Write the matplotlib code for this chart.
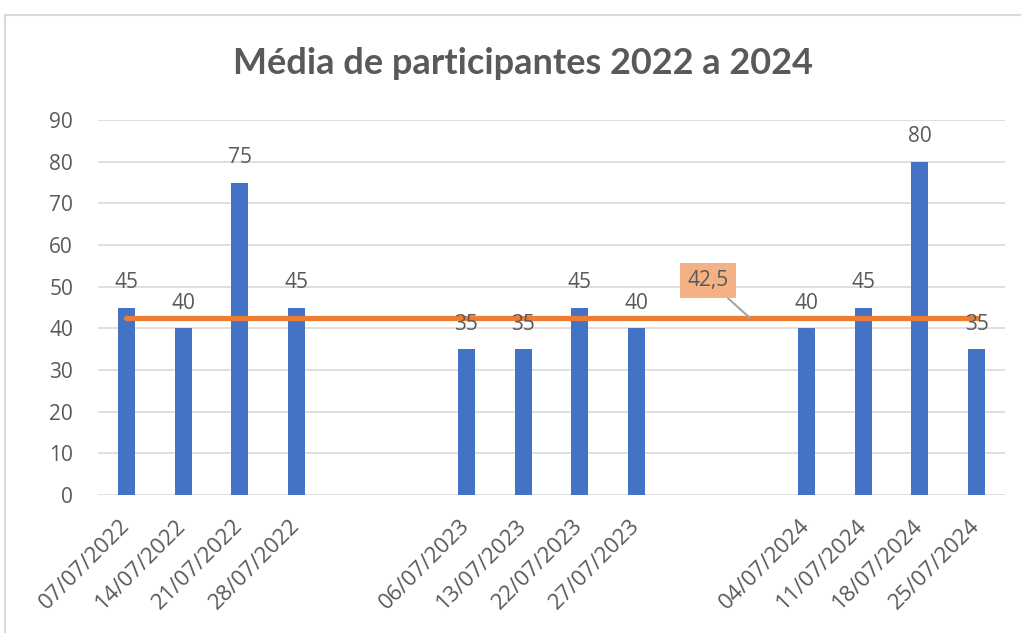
import matplotlib.pyplot as plt
from matplotlib.patches import Rectangle

# categories (blank ones leave gaps between years)
datas = ['07/07/2022', '14/07/2022', '21/07/2022', '28/07/2022', '', '',
         '06/07/2023', '13/07/2023', '22/07/2023', '27/07/2023', '', '',
         '04/07/2024', '11/07/2024', '18/07/2024', '25/07/2024']
participantes = [45, 40, 75, 45, None, None,
                 35, 35, 45, 40, None, None,
                 40, 45, 80, 35]
media = 42.5
yticks = [0, 10, 20, 30, 40, 50, 60, 70, 80, 90]

BLUE = '#4472C4'
ORANGE = '#ED7D31'
GREY = '#595959'

plt.rcParams['font.family'] = ['Open Sans', 'DejaVu Sans']

fig = plt.figure(figsize=(10.21, 6.33), dpi=100)
ax = fig.add_axes([98 / 1021, 1 - 495 / 633, 907 / 1021, 375 / 633])

# chart border (cut by the screenshot on right and bottom)
fig.patches.append(Rectangle((5 / 1021, -0.1), 1.2, 1 - 15 / 633 + 0.1,
                             transform=fig.transFigure, fill=False,
                             edgecolor='#D9D9D9', linewidth=1.5))

xs = [i for i, v in enumerate(participantes) if v is not None]
vals = [v for v in participantes if v is not None]
ax.bar(xs, vals, width=0.3, color=BLUE, zorder=2)

for x, v in zip(xs, vals):
    ax.annotate(str(v), (x, v), xytext=(0, 18), textcoords='offset points',
                ha='center', va='center', fontsize=15, color=GREY, zorder=4)

# average line
ax.plot([xs[0], xs[-1]], [media, media], color=ORANGE, linewidth=3.8,
        solid_capstyle='round', zorder=3)
ax.annotate('42,5', (11, media), xytext=(-30, 27), textcoords='offset points',
            ha='center', va='center', fontsize=15, color=GREY, zorder=5,
            bbox=dict(boxstyle='square,pad=0.35', fc='#F4B183', ec='none'),
            arrowprops=dict(arrowstyle='-', color='#A6A6A6', lw=1.5,
                            shrinkA=0, shrinkB=0))

ax.set_xlim(-0.5, len(datas) - 0.5)
ax.set_ylim(0, 90)
ax.set_yticks(yticks)
ax.set_xticks(range(len(datas)))
ax.set_xticklabels(datas, rotation=45, ha='right', va='center',
                   rotation_mode='anchor', fontsize=16, color=GREY)
ax.tick_params(axis='x', length=0, pad=20)
ax.tick_params(axis='y', length=0, pad=18, labelsize=15, labelcolor=GREY)
ax.grid(axis='y', color='#D9D9D9', linewidth=1.2, zorder=0)
for s in ax.spines.values():
    s.set_visible(False)
ax.set_axisbelow(True)

fig.text(523 / 1021, 1 - 63 / 633, 'Média de participantes 2022 a 2024',
         ha='center', va='center', fontsize=26, fontweight='bold',
         color=GREY, family=['Lato', 'DejaVu Sans'])

fig.savefig('out.png', dpi=100)
